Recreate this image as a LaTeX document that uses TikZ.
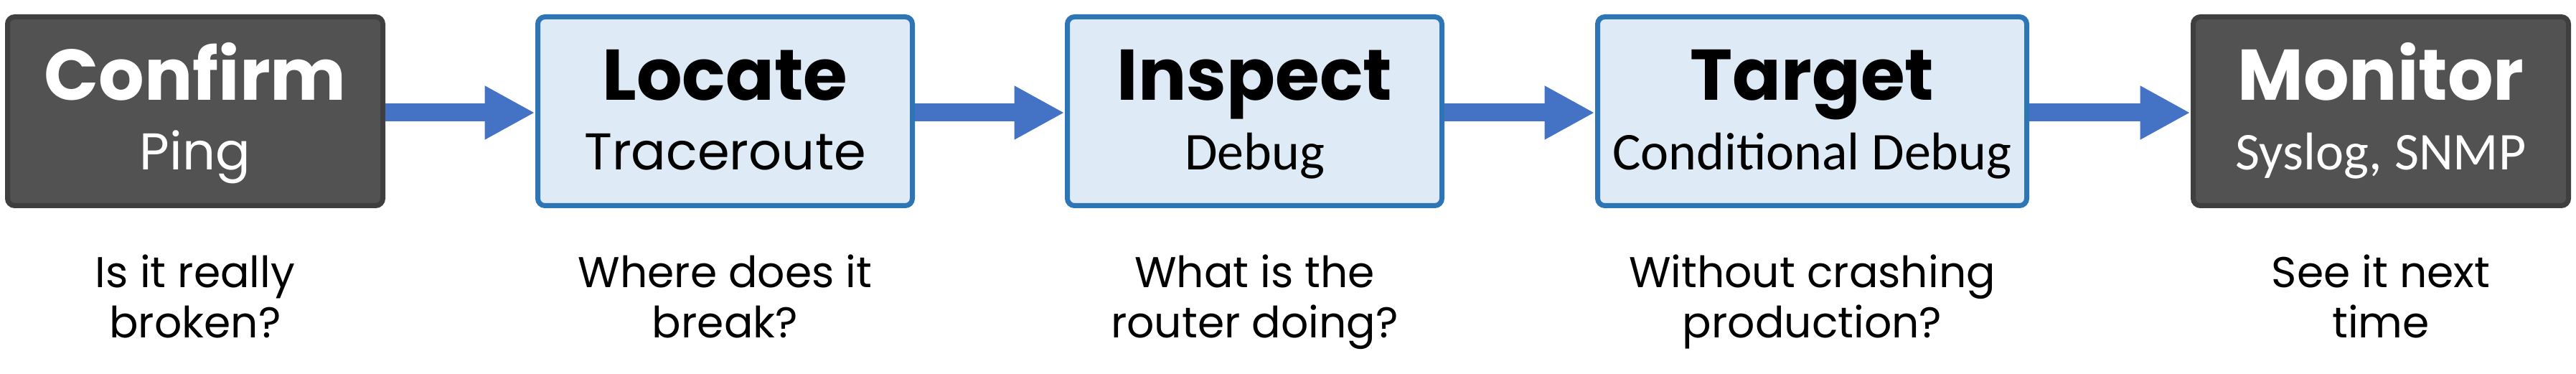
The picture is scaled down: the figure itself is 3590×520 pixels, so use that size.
\documentclass[tikz,border=0pt]{standalone}
\usepackage{fontspec}
\setmainfont{Poppins}
\newfontfamily\popfont{Poppins}
\newfontfamily\calfont{Carlito}
\usetikzlibrary{arrows.meta}
\definecolor{darkfill}{HTML}{525252}
\definecolor{darkline}{HTML}{3F3F3F}
\definecolor{lightfill}{HTML}{DEEAF6}
\definecolor{lightline}{HTML}{2E75B6}
\definecolor{arrowblue}{HTML}{4472C4}
\begin{document}
\begin{tikzpicture}[x=1pt,y=1pt,
  box/.style={rectangle, rounded corners=10pt, line width=7pt, minimum height=263pt, inner sep=0pt, outer sep=0pt},
  darkbox/.style={box, fill=darkfill, draw=darkline},
  lightbox/.style={box, fill=lightfill, draw=lightline},
  ttl/.style={anchor=base, inner sep=0pt, font=\popfont\bfseries\fontsize{100}{100}\selectfont},
  subp/.style={anchor=base, inner sep=0pt, font=\popfont\fontsize{72}{72}\selectfont},
  subc/.style={anchor=base, inner sep=0pt, font=\calfont\fontsize{74}{74}\selectfont},
  qp/.style={anchor=base, inner sep=0pt, align=center, font=\popfont\fontsize{60}{70}\selectfont},
  flow/.style={draw=arrowblue, line width=25pt, -{Triangle[length=70pt,width=70pt]}, shorten <=3.5pt, shorten >=4pt}
]
\useasboundingbox (0,0) rectangle (3590,520);

\node[darkbox, minimum width=523pt] (confirm) at (272,365) {};
\node[lightbox, minimum width=522pt] (locate) at (1010.5,365) {};
\node[lightbox, minimum width=522pt] (inspect) at (1748.5,365) {};
\node[lightbox, minimum width=598pt] (target) at (2525.5,365) {};
\node[darkbox, minimum width=523pt] (monitor) at (3318,365) {};

\node[ttl, text=white] (confirmT) at (272,380) {Confirm};
\node[subp, text=white] (confirmS) at (272,283) {Ping};
\node[ttl] (locateT) at (1010.5,380) {Locate};
\node[subp] (locateS) at (1010.5,283) {Traceroute};
\node[ttl] (inspectT) at (1748.5,380) {Inspect};
\node[subc] (inspectS) at (1748.5,283) {Debug};
\node[ttl] (targetT) at (2525.5,380) {Target};
\node[subc] (targetS) at (2525.5,283) {Conditional Debug};
\node[ttl, text=white] (monitorT) at (3318,380) {Monitor};
\node[subc, text=white] (monitorS) at (3318,283) {Syslog, SNMP};

\node[qp] (confirmQ) at (272,50) {Is it really\\broken?};
\node[qp] (locateQ) at (1010.5,50) {Where does it\\break?};
\node[qp] (inspectQ) at (1748.5,50) {What is the\\router doing?};
\node[qp] (targetQ) at (2525.5,50) {Without crashing\\production?};
\node[qp] (monitorQ) at (3318,50) {See it next\\time};

\draw[flow] ([yshift=-2pt]confirm.east) -- ([yshift=-2pt]locate.west);
\draw[flow] ([yshift=-2pt]locate.east) -- ([yshift=-2pt]inspect.west);
\draw[flow] ([yshift=-2pt]inspect.east) -- ([yshift=-2pt]target.west);
\draw[flow] ([yshift=-2pt]target.east) -- ([yshift=-2pt]monitor.west);
\end{tikzpicture}
\end{document}
